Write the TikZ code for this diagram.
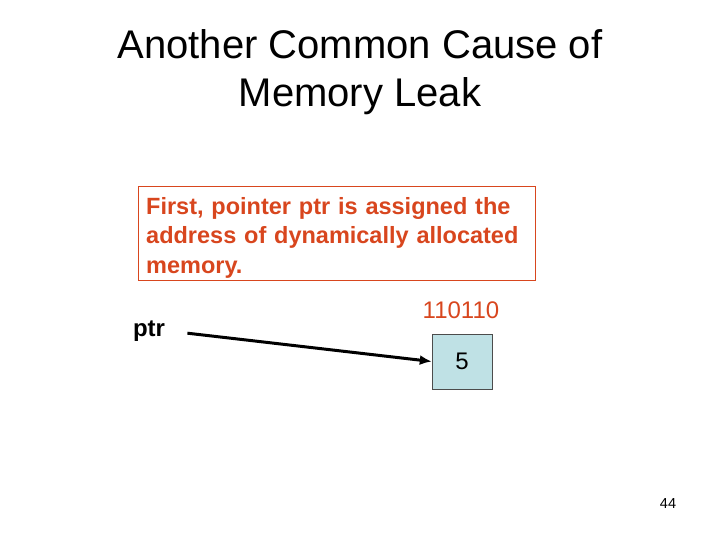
\documentclass[tikz,border=0pt]{standalone}
\usepackage{fontspec}
\setmainfont{Liberation Sans}
\usepackage{xcolor}
\usetikzlibrary{arrows.meta,positioning,calc}

\definecolor{notered}{HTML}{D8461E}
\definecolor{cellblue}{HTML}{BFE1E5}

\begin{document}
\begin{tikzpicture}[x=1pt,y=1pt,>={Latex[length=12pt,width=10pt]},
  note/.style={draw=notered,text=notered,font=\fontsize{23.5}{29.5}\selectfont\bfseries,
    minimum width=397pt,text width=381pt,text height=20pt,text depth=58pt,
    align=left,inner sep=8pt},
  cellbox/.style={draw=black!70,fill=cellblue,minimum width=60pt,minimum height=55pt,
    font=\fontsize{24}{28}\selectfont,inner sep=0pt}]
\useasboundingbox (0,0) rectangle (720,-540);
\node[align=center,font=\fontsize{40}{48}\selectfont] (title) at (360,-72) {Another Common Cause of\\Memory Leak};
\node[note,anchor=north west] (note) at (138,-186) {First, pointer ptr is assigned the\\address of dynamically allocated\\memory.};
\node[font=\fontsize{24}{28}\selectfont\bfseries] (ptr) at (149,-331) {ptr};
\node[text=notered,font=\fontsize{24}{28}\selectfont] (addr) at (461,-310) {110110};
\node[cellbox] (cell) at (462,-361.5) {5};
\draw[->,line width=3pt,shorten <=19pt] (ptr.east) -- (cell.west);
\node[font=\fontsize{14.5}{17}\selectfont] (page) at (668,-504) {44};
\end{tikzpicture}
\end{document}
